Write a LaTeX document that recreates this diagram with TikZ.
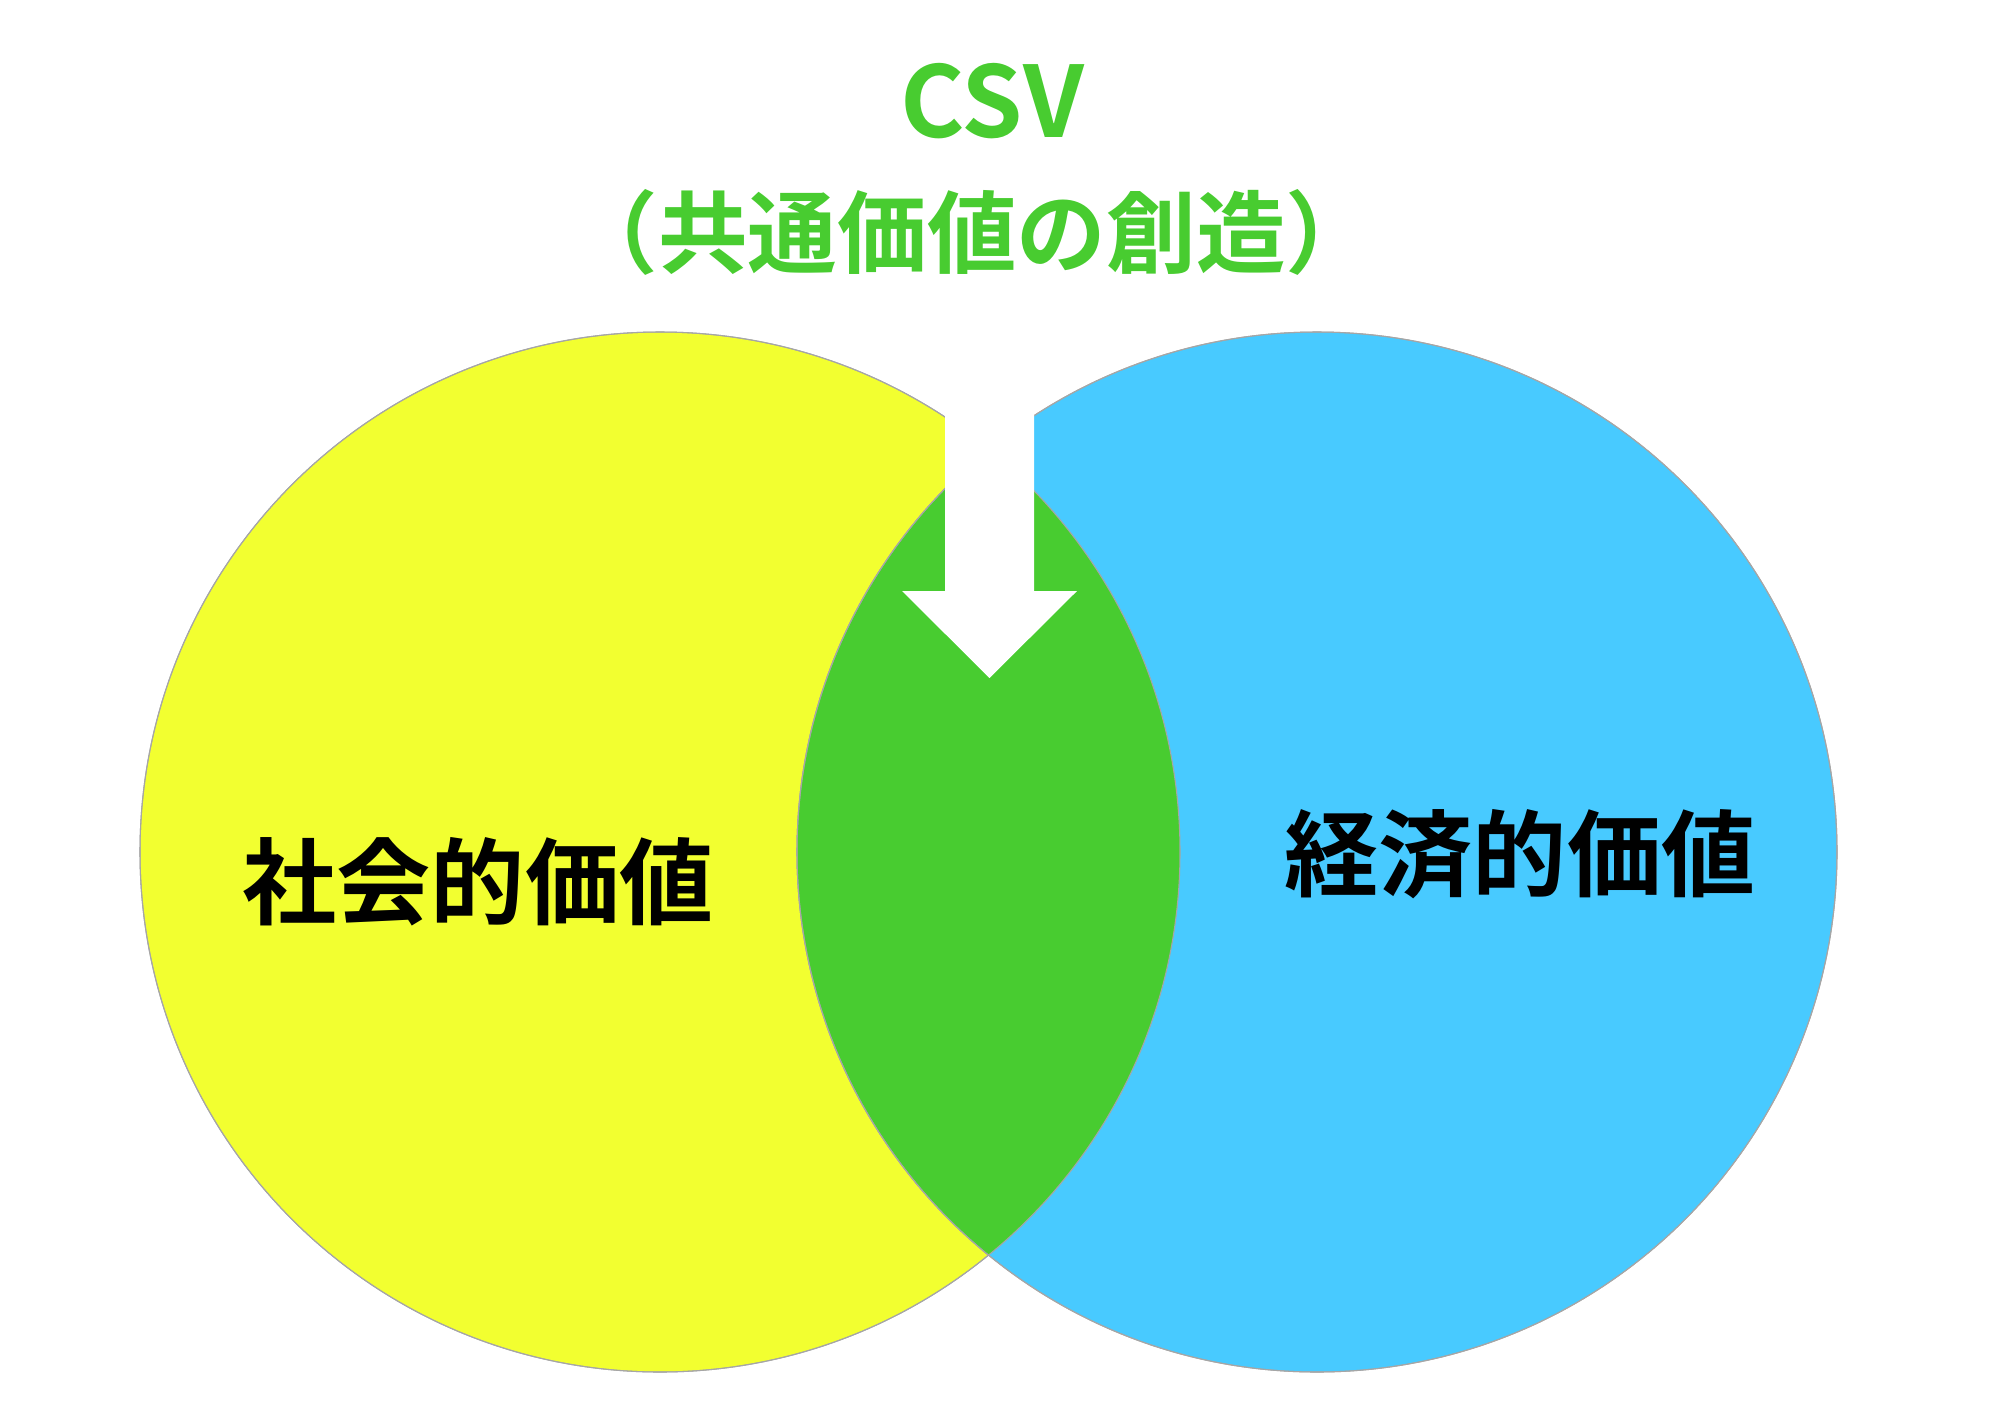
\documentclass[tikz,border=0pt]{standalone}
\usepackage{fontspec}
\newfontfamily\jp{Noto Sans CJK JP Bold}
\usetikzlibrary{positioning}
\definecolor{socyel}{RGB}{242,255,48}
\definecolor{ecoblu}{RGB}{72,202,255}
\definecolor{csvgrn}{RGB}{72,204,48}
\tikzset{
  circ/.style={draw=black!35,line width=.3pt},
  ttl/.style={font=\jp,text=csvgrn,inner sep=0pt},
  lab/.style={font=\jp\fontsize{26.8}{30}\selectfont,text=black,inner sep=0pt},
  arr/.style={fill=white,draw=none},
}
\begin{document}
\begin{tikzpicture}
  \useasboundingbox (0,0) rectangle (20,-14.14);
  % two values
  \fill[socyel,circ] (6.60,-8.52) circle (5.20);
  \fill[ecoblu,circ] (13.17,-8.52) circle (5.20);
  % overlap = CSV
  \begin{scope}
    \clip (6.60,-8.52) circle (5.20);
    \fill[csvgrn,circ] (13.17,-8.52) circle (5.20);
  \end{scope}
  \draw[circ] (6.60,-8.52) circle (5.20);
  \draw[circ] (13.17,-8.52) circle (5.20);
  % arrow down into the overlap
  \fill[arr] (9.45,-3.20) -- (10.34,-3.20) -- (10.34,-5.91) -- (10.77,-5.91)
     -- (9.895,-6.78) -- (9.02,-5.91) -- (9.45,-5.91) -- cycle;
  \node[ttl,font=\jp\fontsize{28}{32}\selectfont,anchor=base] (csv) at (9.92,-1.37){CSV};
  \node[ttl,font=\jp\fontsize{25.5}{29}\selectfont,anchor=base] (csvjp) at (9.72,-2.665){（共通価値の創造）};
  \node[lab,anchor=base] (soc) at (4.78,-9.17){社会的価値};
  \node[lab,anchor=base] (eco) at (15.20,-8.89){経済的価値};
\end{tikzpicture}
\end{document}
